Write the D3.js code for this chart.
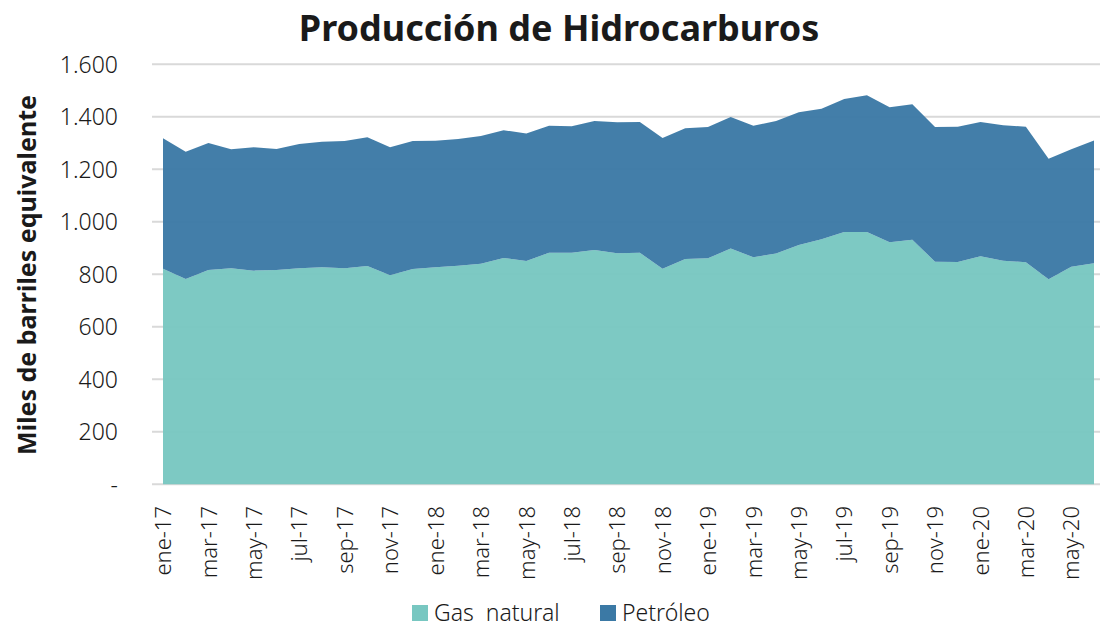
<!DOCTYPE html>
<html>
  <body style="margin:0;background:#fff;">
    <style>
      text { font-family: "Noto Sans", sans-serif; fill: #1a1a1a; }
      .grid line { stroke: #d9d9d9; stroke-width: 2px; }
    </style>
    <script src="https://d3js.org/d3.v7.min.js"></script>
    <script type="text/javascript">
      // Producción de Hidrocarburos - stacked area, miles de barriles equivalente
      const width = 1101;
      const height = 628;

      const months = [
        'ene-17','feb-17','mar-17','abr-17','may-17','jun-17','jul-17','ago-17','sep-17','oct-17','nov-17','dic-17',
        'ene-18','feb-18','mar-18','abr-18','may-18','jun-18','jul-18','ago-18','sep-18','oct-18','nov-18','dic-18',
        'ene-19','feb-19','mar-19','abr-19','may-19','jun-19','jul-19','ago-19','sep-19','oct-19','nov-19','dic-19',
        'ene-20','feb-20','mar-20','abr-20','may-20','jun-20'
      ];

      const gasNatural = [
        821, 782, 816, 823, 814, 816, 823, 827, 823, 832, 796, 820,
        827, 833, 840, 862, 851, 882, 882, 893, 880, 882, 821, 858,
        861, 898, 865, 879, 912, 934, 961, 961, 922, 932, 848, 847,
        869, 852, 846, 781, 829, 842
      ];

      const petroleo = [
        497, 485, 484, 453, 470, 461, 473, 478, 485, 490, 488, 488,
        482, 482, 487, 487, 485, 484, 482, 491, 499, 498, 498, 498,
        500, 501, 501, 505, 505, 497, 507, 521, 514, 516, 513, 515,
        511, 516, 516, 459, 447, 468
      ];

      const seriesNames = ['Gas  natural', 'Petróleo'];
      const colors = ['#78c7c1', '#3b79a5'];
      const yTicks = [0, 200, 400, 600, 800, 1000, 1200, 1400, 1600];

      const table = months.map((m, i) => ({ month: m, gas: gasNatural[i], oil: petroleo[i] }));

      const svg = d3.select('body')
        .append('svg')
        .attr('width', width)
        .attr('height', height);

      const x = d3.scalePoint()
        .domain(months)
        .range([163, 1094]);

      const y = d3.scaleLinear()
        .domain([0, 1600])
        .range([484.3, 64.3]);

      const locale = d3.formatLocale({ decimal: ',', thousands: '.', grouping: [3], currency: ['$', ''] });
      const fmt = locale.format(',d');

      // gridlines
      svg.append('g')
        .attr('class', 'grid')
        .selectAll('line')
        .data(yTicks)
        .join('line')
        .attr('x1', 152)
        .attr('x2', 1100)
        .attr('y1', (d) => y(d))
        .attr('y2', (d) => y(d));

      const stack = d3.stack().keys(['gas', 'oil']);
      const layers = stack(table);

      const area = d3.area()
        .x((d) => x(d.data.month))
        .y0((d) => y(d[0]))
        .y1((d) => y(d[1]));

      svg.append('g')
        .selectAll('path')
        .data(layers)
        .join('path')
        .attr('d', area)
        .attr('fill', (d, i) => colors[i])
        .attr('fill-opacity', 0.96);

      // y axis
      const yAxis = d3.axisLeft(y)
        .tickValues(yTicks)
        .tickSize(0)
        .tickPadding(0)
        .tickFormat((d) => d === 0 ? '-' : fmt(d));

      svg.append('g')
        .attr('transform', 'translate(118,0)')
        .call(yAxis)
        .call((g) => g.select('.domain').remove())
        .selectAll('text')
        .style('font-size', '23px')
        .style('font-weight', '300')
        .attr('fill', '#1a1a1a')
        .attr('dy', '0.35em');

      // x axis
      const xAxis = d3.axisBottom(x)
        .tickValues(months.filter((m, i) => i % 2 === 0))
        .tickSize(0)
        .tickPadding(0);

      svg.append('g')
        .attr('transform', 'translate(0,506)')
        .call(xAxis)
        .call((g) => g.select('.domain').remove())
        .selectAll('text')
        .style('font-size', '22px')
        .style('font-weight', '300')
        .attr('fill', '#1a1a1a')
        .attr('text-anchor', 'end')
        .attr('x', 0)
        .attr('y', 0)
        .attr('dy', '0.35em')
        .attr('transform', 'rotate(-90)');

      // title
      svg.append('text')
        .attr('x', 559)
        .attr('y', 41)
        .attr('text-anchor', 'middle')
        .style('font-size', '36px')
        .style('font-weight', 'bold')
        .text('Producción de Hidrocarburos');

      // y label
      svg.append('text')
        .attr('transform', 'translate(36,275) rotate(-90)')
        .attr('text-anchor', 'middle')
        .style('font-size', '25px')
        .style('font-weight', 'bold')
        .text('Miles de barriles equivalente');

      // legend
      const legendX = [412, 600];
      const legend = svg.append('g')
        .selectAll('g')
        .data(seriesNames)
        .join('g')
        .attr('transform', (d, i) => `translate(${legendX[i]},605)`);

      legend.append('rect')
        .attr('width', 16)
        .attr('height', 16)
        .attr('fill', (d, i) => colors[i]);

      legend.append('text')
        .attr('x', 22)
        .attr('y', 16)
        .style('font-size', '23px')
        .style('font-weight', '300')
        .attr('xml:space', 'preserve')
        .text((d) => d);
    </script>
  </body>
</html>
